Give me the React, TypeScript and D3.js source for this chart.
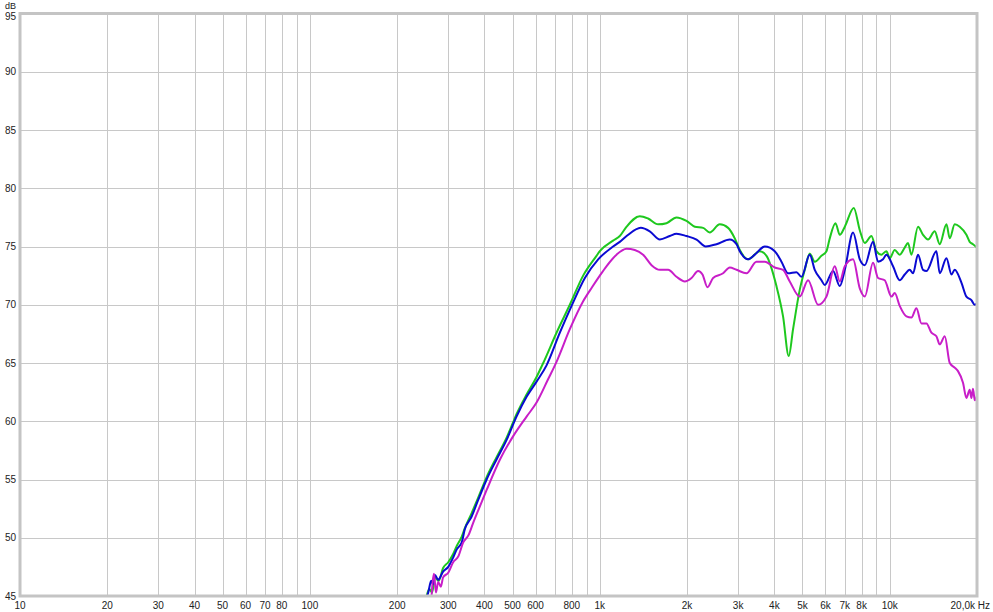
import React from "react";
import * as d3 from "d3";

// ---- data ----
const gridFreqs: number[] = [
  20, 30, 40, 50, 60, 70, 80, 90, 100, 200, 300, 400, 500, 600, 700, 800, 900,
  1000, 2000, 3000, 4000, 5000, 6000, 7000, 8000, 9000, 10000,
];
const xTickValues: number[] = [
  10, 20, 30, 40, 50, 60, 70, 80, 100, 200, 300, 400, 500, 600, 800, 1000,
  2000, 3000, 4000, 5000, 6000, 7000, 8000, 10000,
];
const xTickLabels: string[] = [
  "10", "20", "30", "40", "50", "60", "70", "80", "100", "200", "300", "400",
  "500", "600", "800", "1k", "2k", "3k", "4k", "5k", "6k", "7k", "8k", "10k",
];
const yTicks: number[] = [45, 50, 55, 60, 65, 70, 75, 80, 85, 90, 95];

const greenData: [number, number][] = [
  [250, 44.5], [258, 45.6], [264, 45.3], [270, 46.6], [278, 46.3], [288, 47.4],
  [300, 47.9], [312, 48.6], [321, 49.3], [334, 50.1], [342, 50.8], [361, 52.1],
  [380, 53.4], [407, 55.2], [440, 56.9], [477, 58.6], [502, 59.9], [516, 60.6],
  [559, 62.3], [605, 63.8], [638, 65.0], [709, 67.6], [788, 70.0], [876, 72.5],
  [974, 74.2], [1000, 74.6], [1111, 75.5], [1172, 75.9], [1237, 76.7],
  [1374, 77.6], [1467, 77.4], [1589, 76.9], [1698, 77.0], [1838, 77.5],
  [1991, 77.2], [2127, 76.7], [2271, 76.6], [2394, 76.2], [2593, 76.9],
  [2770, 76.6], [2921, 75.7], [3040, 74.7], [3246, 73.9], [3562, 74.6],
  [3757, 74.2], [4067, 71.6], [4286, 69.0], [4484, 65.6], [4640, 67.9],
  [4895, 71.3], [5093, 73.0], [5299, 74.4], [5513, 73.7], [5814, 74.2],
  [6050, 74.6], [6211, 75.7], [6500, 77.0], [6725, 76.0], [7000, 76.7],
  [7516, 78.3], [7883, 76.4], [8204, 75.3], [8649, 75.9], [8997, 74.6],
  [9362, 74.3], [9741, 74.6], [10000, 74.0], [10405, 74.7], [10826, 74.3],
  [11263, 74.9], [11563, 75.3], [11880, 74.3], [12518, 76.7], [13027, 76.0],
  [13556, 75.6], [14296, 76.3], [14872, 75.2], [15692, 76.9], [16109, 75.7],
  [16755, 76.9], [17433, 76.7], [18387, 76.0], [18874, 75.4], [19373, 75.2],
  [20000, 74.9],
];

const blueData: [number, number][] = [
  [250, 44.5], [256, 45.3], [262, 46.3], [266, 46.0], [270, 46.8], [277, 46.4],
  [288, 47.1], [300, 47.5], [312, 48.3], [321, 49.0], [334, 49.6], [342, 50.7],
  [361, 51.8], [380, 53.2], [407, 55.0], [440, 56.7], [477, 58.4], [516, 60.4],
  [559, 62.1], [605, 63.4], [655, 64.8], [728, 67.6], [799, 69.9], [888, 72.3],
  [987, 73.9], [1111, 75.0], [1172, 75.4], [1237, 75.9], [1385, 76.6],
  [1487, 76.3], [1611, 75.6], [1743, 75.9], [1838, 76.1], [1991, 75.9],
  [2156, 75.6], [2320, 75.0], [2526, 75.2], [2807, 75.6], [2961, 75.2],
  [3040, 74.6], [3246, 73.9], [3424, 74.3], [3707, 75.0], [4012, 74.6],
  [4232, 73.7], [4460, 72.7], [4768, 72.8], [4961, 72.4], [5299, 74.3],
  [5513, 73.0], [5814, 72.1], [5969, 71.7], [6376, 72.9], [6725, 71.6],
  [7000, 73.0], [7473, 76.2], [7883, 73.9], [8204, 73.4], [8759, 75.4],
  [9114, 73.7], [9482, 73.9], [9741, 74.3], [10266, 73.3], [10826, 72.1],
  [11263, 72.6], [11722, 73.0], [12033, 72.7], [12518, 74.3], [13027, 73.0],
  [13385, 72.9], [14488, 74.6], [14872, 72.7], [15692, 74.0], [16329, 72.6],
  [16755, 73.0], [17670, 71.9], [18387, 70.7], [19129, 70.4], [19640, 70.0],
  [20000, 70.1],
];

const magentaData: [number, number][] = [
  [262, 44.5], [268, 46.9], [272, 45.3], [277, 46.2], [283, 45.8], [288, 46.6],
  [300, 47.0], [312, 47.9], [325, 48.4], [338, 49.6], [352, 50.2], [366, 51.3],
  [380, 52.3], [407, 54.1], [452, 56.7], [502, 58.7], [559, 60.4], [605, 61.6],
  [663, 63.6], [709, 65.1], [788, 67.9], [876, 70.3], [940, 71.5], [1000, 72.5],
  [1054, 73.3], [1142, 74.3], [1237, 74.8], [1320, 74.7], [1410, 74.3],
  [1508, 73.4], [1611, 73.0], [1720, 73.0], [1838, 72.4], [1964, 72.0],
  [2072, 72.3], [2183, 72.9], [2260, 72.6], [2352, 71.5], [2459, 72.3],
  [2662, 72.7], [2807, 73.2], [2961, 73.0], [3205, 72.7], [3470, 73.7],
  [3707, 73.7], [4012, 73.2], [4286, 73.0], [4520, 72.0], [4895, 70.7],
  [5229, 72.1], [5659, 70.0], [6050, 70.7], [6463, 73.3], [6725, 72.0],
  [7000, 73.3], [7473, 73.9], [7883, 71.4], [8204, 70.7], [8759, 73.6],
  [9114, 72.3], [9611, 72.1], [10136, 70.7], [10405, 71.0], [10826, 69.9],
  [11418, 69.0], [11880, 68.9], [12362, 69.7], [12862, 68.4], [13385, 68.4],
  [13927, 67.6], [14488, 67.3], [14872, 66.6], [15483, 67.3], [16109, 65.0],
  [16755, 64.6], [17199, 64.3], [17895, 63.3], [18387, 62.0], [18874, 62.7],
  [19129, 62.0], [19373, 62.8], [19640, 61.8], [20000, 62.2],
];

const series = [
  { name: "green", data: greenData, color: "#1ec81e" },
  { name: "blue", data: blueData, color: "#0a0ad2" },
  { name: "magenta", data: magentaData, color: "#c81ec8" },
];

export default function App() {
  const W = 993;
  const H = 612;
  const left = 20;
  const right = 977;
  const top = 13.5;
  const bottom = 596;

  const x = d3.scaleLog().domain([10, 20000]).range([left, right]);
  const y = d3.scaleLinear().domain([45, 95]).range([bottom, top]);

  const line = d3
    .line<[number, number]>()
    .x((d) => x(d[0]))
    .y((d) => y(d[1]))
    .curve(d3.curveMonotoneX);

  const font = "'Liberation Sans', Arial, sans-serif";

  return (
    <svg
      width={W}
      height={H}
      style={{ position: "absolute", left: 0, top: 0, background: "#fff" }}
      fontFamily={font}
    >
      <defs>
        <clipPath id="plot">
          <rect x={left} y={top} width={right - left} height={bottom - top} />
        </clipPath>
      </defs>
      <rect x={0} y={0} width={W} height={H} fill="#fff" />
      {gridFreqs.map((f) => (
        <line
          key={"gx" + f}
          x1={Math.round(x(f)) + 0.5}
          x2={Math.round(x(f)) + 0.5}
          y1={top}
          y2={bottom}
          stroke="#c8c8c8"
          strokeWidth={1}
        />
      ))}
      {yTicks.map((t) => (
        <line
          key={"gy" + t}
          x1={left}
          x2={right}
          y1={Math.round(y(t)) + 0.5}
          y2={Math.round(y(t)) + 0.5}
          stroke="#c8c8c8"
          strokeWidth={1}
        />
      ))}
      <g clipPath="url(#plot)">
        {series.map((s) => (
          <path
            key={s.name}
            d={line(s.data) || ""}
            fill="none"
            stroke={s.color}
            strokeWidth={2}
            strokeLinejoin="round"
          />
        ))}
      </g>
      <rect
        x={left}
        y={top}
        width={right - left}
        height={bottom - top}
        fill="none"
        stroke="#c4c4c4"
        strokeWidth={3}
      />
      {yTicks.map((t) => (
        <text
          key={"yl" + t}
          x={16}
          y={t === 95 ? 19.5 : y(t) + 3.5}
          textAnchor="end"
          fontSize={10}
          fill="#222"
        >
          {t}
        </text>
      ))}
      <text x={16} y={8.5} textAnchor="end" fontSize={9} fill="#222">
        dB
      </text>
      {xTickValues.map((f, i) => (
        <text
          key={"xl" + f}
          x={x(f)}
          y={608.5}
          textAnchor="middle"
          fontSize={10}
          fill="#222"
        >
          {xTickLabels[i]}
        </text>
      ))}
      <text x={990} y={608.5} textAnchor="end" fontSize={10} fill="#222">
        20,0k Hz
      </text>
    </svg>
  );
}
